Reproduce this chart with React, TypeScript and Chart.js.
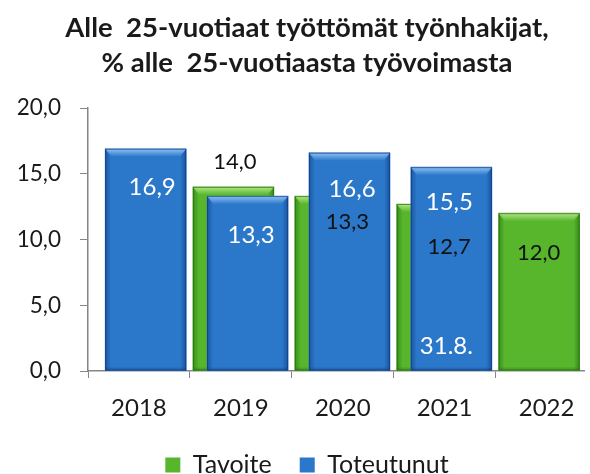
import React, { useEffect, useRef } from 'react';
import { Chart, registerables } from 'chart.js';

Chart.register(...registerables);

// ---- data ----
const YEARS = ['2018', '2019', '2020', '2021', '2022'];
const TAVOITE: (number | null)[] = [null, 14.0, 13.3, 12.7, 12.0];
const TOTEUTUNUT: (number | null)[] = [16.9, 13.3, 16.6, 15.5, null];
const TOTEUTUNUT_NOTES = ['', '', '', '31.8.', ''];
const Y_TICKS = [0, 5, 10, 15, 20];
const TITLE_LINES = ['Alle  25-vuotiaat työttömät työnhakijat,', '% alle  25-vuotiaasta työvoimasta'];
const SERIES_NAMES = ['Tavoite', 'Toteutunut'];

// ---- style ----
const FONT = 'Lato';
const GREEN = '#57b62c';
const BLUE = '#2b78cb';
const AXIS = '#868686';
const TEXT = '#1a1a1a';
const GREEN_SHIFT = -0.073;
const BLUE_SHIFT = 0.066;
// label offsets (px) relative to bar centre / bar top
const TAV_LABEL_OFFSETS = [[0, 0], [1.5, -25], [12, 26], [12, 43], [-0.5, 40]];
const TOT_LABEL_OFFSETS = [[6.5, 39], [3.5, 39], [2.5, 37], [-2, 35], [0, 0]];
const NOTE_OFFSET = [-5, -24];

const fmt = (v: number) => v.toFixed(1).replace('.', ',');

const SHADES = [
  { light: 'rgba(185,235,140,', dark: 'rgba(35,110,15,' },
  { light: 'rgba(150,200,245,', dark: 'rgba(15,60,130,' },
];

const bevelPlugin = {
  id: 'bevel',
  afterDatasetDraw(chart: any, args: any) {
    const ctx = chart.ctx as CanvasRenderingContext2D;
    const shade = SHADES[args.index];
    const values = chart.data.datasets[args.index].data;
    ctx.save();
    args.meta.data.forEach((el: any, i: number) => {
      if (values[i] == null || values[i].y == null) return;
      const { x, y, base, width } = el.getProps(['x', 'y', 'base', 'width'], true);
      const l = x - width / 2, r = x + width / 2, t = Math.min(y, base), b = Math.max(y, base);
      const e = 6;
      let g = ctx.createLinearGradient(l, 0, l + e, 0);
      g.addColorStop(0, shade.dark + '0.55)');
      g.addColorStop(1, shade.dark + '0)');
      ctx.fillStyle = g;
      ctx.fillRect(l, t, e, b - t);
      g = ctx.createLinearGradient(r - e, 0, r, 0);
      g.addColorStop(0, shade.dark + '0)');
      g.addColorStop(1, shade.dark + '0.6)');
      ctx.fillStyle = g;
      ctx.fillRect(r - e, t, e, b - t);
      g = ctx.createLinearGradient(0, b - 4, 0, b);
      g.addColorStop(0, shade.dark + '0)');
      g.addColorStop(1, shade.dark + '0.5)');
      ctx.fillStyle = g;
      ctx.fillRect(l, b - 4, width, 4);
      g = ctx.createLinearGradient(0, t, 0, t + e + 2);
      g.addColorStop(0, shade.light + '0.95)');
      g.addColorStop(1, shade.light + '0)');
      ctx.fillStyle = g;
      ctx.beginPath();
      ctx.moveTo(l, t);
      ctx.lineTo(r, t);
      ctx.lineTo(r - e, t + e + 2);
      ctx.lineTo(l + e, t + e + 2);
      ctx.closePath();
      ctx.fill();
      ctx.strokeStyle = shade.dark + '0.7)';
      ctx.lineWidth = 1;
      ctx.strokeRect(l + 0.5, t + 0.5, width - 1, b - t - 1);
    });
    ctx.restore();
  },
};

const labelPlugin = {
  id: 'valueLabels',
  afterDatasetsDraw(chart: any) {
    const ctx = chart.ctx as CanvasRenderingContext2D;
    ctx.save();
    ctx.textAlign = 'center';
    ctx.textBaseline = 'middle';
    const tav = chart.getDatasetMeta(0).data;
    const tot = chart.getDatasetMeta(1).data;
    ctx.fillStyle = '#ffffff';
    ctx.font = `24px ${FONT}`;
    TOTEUTUNUT.forEach((v, i) => {
      if (v == null) return;
      const el = tot[i];
      const [dx, dy] = TOT_LABEL_OFFSETS[i];
      ctx.fillText(fmt(v), el.x + dx, el.y + dy);
      if (TOTEUTUNUT_NOTES[i]) {
        ctx.fillText(TOTEUTUNUT_NOTES[i], el.x + NOTE_OFFSET[0], el.base + NOTE_OFFSET[1]);
      }
    });
    ctx.fillStyle = '#111111';
    ctx.font = `22px ${FONT}`;
    TAVOITE.forEach((v, i) => {
      if (v == null) return;
      const el = tav[i];
      const [dx, dy] = TAV_LABEL_OFFSETS[i];
      ctx.fillText(fmt(v), el.x + dx, el.y + dy);
    });
    ctx.restore();
  },
};

export default function App() {
  const ref = useRef<HTMLCanvasElement>(null);
  useEffect(() => {
    document.body.style.margin = '0';
    const chart = new Chart(ref.current!, {
      type: 'bar',
      data: {
        datasets: [
          {
            label: SERIES_NAMES[0],
            data: TAVOITE.map((v, i) => ({ x: i + GREEN_SHIFT, y: v })) as any,
            backgroundColor: GREEN,
            borderWidth: 0,
            order: 2,
          },
          {
            label: SERIES_NAMES[1],
            data: TOTEUTUNUT.map((v, i) => ({ x: i + BLUE_SHIFT, y: v })) as any,
            backgroundColor: BLUE,
            borderWidth: 0,
            order: 1,
          },
        ],
      },
      options: {
        responsive: false,
        animation: false,
        grouped: false,
        barThickness: 81,
        layout: { padding: { left: 0, right: -24, top: 0, bottom: -13.5 } },
        scales: {
          x: {
            type: 'linear',
            offset: false,
            min: -0.5,
            max: 4.37,
            afterBuildTicks: (axis: any) => {
              axis.ticks = YEARS.map((_, i) => ({ value: i }));
            },
            ticks: {
              callback: (v: any) => YEARS[v] ?? '',
              font: { family: FONT, size: 24 },
              color: TEXT,
              padding: 15.6,
              maxRotation: 0,
              autoSkip: false,
            },
            grid: { offset: true, drawOnChartArea: false, tickLength: 7, color: AXIS },
            border: { color: AXIS, width: 1.5 },
          },
          y: {
            min: 0,
            max: 20,
            afterBuildTicks: (axis: any) => {
              axis.ticks = Y_TICKS.map((v) => ({ value: v }));
            },
            afterFit: (axis: any) => {
              axis.width = 88;
            },
            ticks: {
              callback: (v: any) => fmt(Number(v)),
              font: { family: FONT, size: 22.5 },
              color: TEXT,
              padding: 19,
            },
            grid: { drawOnChartArea: false, tickLength: 8, color: AXIS },
            border: { color: AXIS, width: 1.5 },
          },
        },
        plugins: {
          title: {
            display: true,
            text: TITLE_LINES,
            color: TEXT,
            font: { family: FONT, size: 27.5, weight: 'bold', lineHeight: 35 / 27.5 },
            padding: { top: 11, bottom: 27 },
          },
          legend: {
            position: 'bottom',
            title: { display: true, text: '', font: { size: 1, lineHeight: 0 }, padding: { top: -13.5, bottom: 0 } },
            labels: {
              font: { family: FONT, size: 25 },
              color: TEXT,
              boxWidth: 15,
              boxHeight: 15,
              padding: 28,
              sort: (a: any, b: any) => a.datasetIndex - b.datasetIndex,
            },
          },
          tooltip: { enabled: false },
        },
      } as any,
      plugins: [bevelPlugin, labelPlugin],
    });
    return () => chart.destroy();
  }, []);
  return (
    <div style={{ width: 590, height: 474 }}>
      <canvas ref={ref} width={590} height={474} style={{ display: 'block' }} />
    </div>
  );
}
